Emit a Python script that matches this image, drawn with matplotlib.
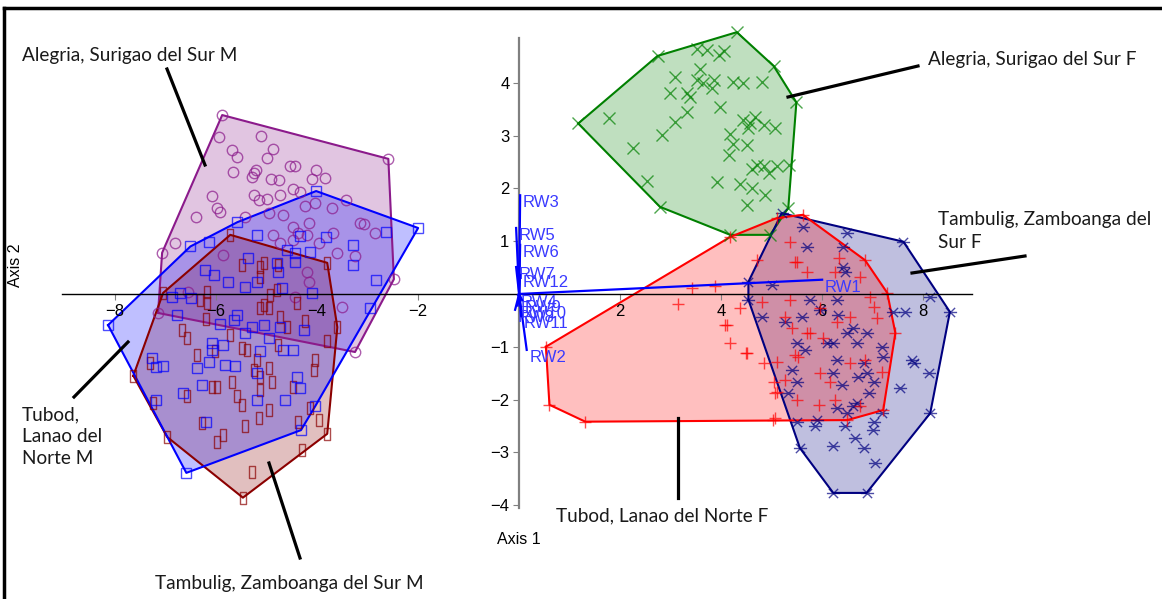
import matplotlib.pyplot as plt
from matplotlib.path import Path
from matplotlib.lines import Line2D

# ---- data ----
alegria_m_x = [-5.88, -2.59, -2.48, -3.25, -7.15, -7.07, -5.95, -5.12, -5.69, -5.59, -4.88, -5.00, -5.67, -5.26,
               -5.21, -5.29, -4.92, -4.75, -4.53, -4.44, -4.02, -3.84, -4.10, -6.09, -5.99, -5.92, -6.40, -5.26,
               -5.16, -5.00, -4.73, -4.47, -4.34, -4.24, -4.04, -3.71, -3.43, -5.43, -4.96, -4.67, -4.47, -4.37,
               -4.20, -4.17, -3.68, -3.15, -3.08, -2.85, -6.81, -5.86, -4.73, -3.61, -3.25, -4.20, -4.17, -4.87,
               -4.47, -3.96, -3.51, -4.44, -6.55]
alegria_m_y = [3.39, 2.56, 0.28, -1.10, -0.36, 0.78, 2.97, 3.00, 2.73, 2.60, 2.74, 2.57, 2.32, 2.30,
               2.35, 2.22, 2.17, 2.16, 2.42, 2.42, 2.34, 2.19, 2.17, 1.86, 1.62, 1.56, 1.46, 1.88,
               1.78, 1.80, 1.88, 1.98, 1.94, 1.67, 1.72, 1.62, 1.78, 1.46, 1.53, 1.50, 1.27, 1.15,
               1.12, 1.34, 1.15, 1.35, 1.33, 1.15, 0.96, 0.74, 0.96, 0.77, 0.71, 0.42, 0.23, 1.12,
               1.02, 0.96, -0.25, -0.05, 0.04]

tubod_m_x = [-4.02, -2.00, -4.32, -6.59, -8.14, -5.58, -5.19, -6.14, -6.51, -4.60, -4.44, -4.14, -3.82, -3.29,
             -3.28, -2.63, -2.83, -5.36, -4.80, -4.44, -6.22, -6.04, -5.76, -5.43, -5.19, -4.77, -4.70, -4.34,
             -6.71, -4.10, -7.27, -7.19, -7.05, -7.19, -6.65, -6.38, -6.28, -6.20, -6.09, -6.09, -5.86, -6.14,
             -5.82, -5.62, -5.92, -5.59, -5.43, -5.13, -5.19, -5.19, -4.96, -4.73, -4.67, -4.47, -4.40, -4.34,
             -4.64, -4.27, -4.04, -2.95, -6.78, -6.88, -6.50, -5.65, -5.29, -5.06]
tubod_m_y = [1.95, 1.25, -2.58, -3.39, -0.59, 1.36, 1.12, 0.99, 0.90, 0.83, 0.77, 0.80, 1.07, 0.93,
             0.55, 1.18, 0.27, 0.68, 0.58, 0.61, 0.45, 0.36, 0.23, 0.14, 0.23, 0.42, 0.11, 1.10,
             0.01, 0.01, -1.22, -1.38, -1.36, -2.01, -1.88, -1.41, -1.72, -2.42, -0.93, -1.06, -0.97, -1.28,
             -1.34, -1.36, -0.56, -0.40, -0.74, -1.09, -1.50, -2.01, -0.84, -0.62, -1.06, -1.06, -1.57, -1.79,
             -2.01, -0.68, -2.13, -0.27, -0.40, -0.05, -0.08, -0.49, -0.62, -0.59]

tambulig_m_x = [-5.72, -3.80, -3.60, -3.80, -5.47, -6.97, -7.64, -7.05, -6.68, -6.58, -6.38, -6.20, -6.03, -6.09,
                -5.99, -5.72, -5.69, -5.59, -5.49, -5.49, -5.39, -5.26, -5.19, -5.13, -5.13, -4.96, -4.90, -4.96,
                -5.16, -5.43, -5.86, -5.99, -6.28, -6.58, -7.31, -7.25, -5.29, -4.30, -4.37, -3.97, -4.14, -4.04,
                -4.07, -3.81, -4.47, -4.60, -4.40, -4.24, -4.77, -4.73, -6.18, -6.31, -5.13, -5.06, -4.96, -4.93,
                -5.49, -5.13, -5.05, -4.77, -5.13, -6.18, -4.80]
tambulig_m_y = [1.12, 0.59, -0.63, -2.65, -3.86, -2.71, -1.55, 0.02, -0.68, -0.84, -1.16, -0.48, -1.09, -1.76,
                -1.76, -0.78, -1.66, -1.94, -2.10, -1.03, -1.06, -1.44, -1.25, -1.57, -1.82, -1.41, -1.66, -2.20,
                -2.35, -2.51, -2.67, -2.80, -2.45, -1.94, -1.31, -2.07, -3.37, -2.95, -2.42, -2.39, -2.16, -1.25,
                -1.44, -0.90, -1.76, -0.62, -0.18, -0.52, -0.97, -0.43, -0.18, -0.11, -0.27, -0.21, -0.27, -0.02,
                0.55, 0.52, 0.58, 0.55, 0.33, 0.04, 0.08]

alegria_f_x = [4.31, 5.04, 5.49, 5.33, 4.97, 4.18, 2.79, 1.17, 2.74, 3.52, 3.72, 3.95, 4.05, 3.09,
               2.99, 3.32, 3.39, 3.58, 3.52, 3.65, 3.82, 3.85, 3.32, 3.09, 2.83, 1.77, 2.26, 3.97,
               4.24, 4.44, 4.81, 4.44, 4.57, 4.54, 4.67, 4.84, 5.07, 4.18, 4.24, 4.15, 4.51, 4.71,
               4.61, 4.84, 4.94, 5.10, 5.35, 3.91, 4.38, 4.61, 4.87, 4.51, 2.53]
alegria_f_y = [4.96, 4.32, 3.63, 1.63, 1.12, 1.12, 1.65, 3.23, 4.51, 4.65, 4.62, 4.53, 4.60, 4.12,
               3.80, 3.80, 3.74, 4.27, 4.05, 3.99, 3.90, 4.05, 3.45, 3.26, 3.01, 3.33, 2.77, 3.55,
               4.02, 3.99, 4.02, 3.30, 3.23, 3.14, 3.36, 3.20, 3.14, 3.04, 2.85, 2.63, 2.82, 2.45,
               2.36, 2.42, 2.29, 2.42, 2.45, 2.12, 2.09, 2.00, 1.87, 1.68, 2.14]

tubod_f_x = [0.53, 4.18, 5.11, 5.62, 6.85, 7.29, 7.45, 7.21, 6.50, 1.31, 0.60, 3.42, 3.88, 3.15,
             4.38, 4.08, 4.18, 4.50, 4.84, 5.10, 5.04, 5.27, 5.07, 5.07, 4.71, 5.37, 5.50, 5.70,
             4.81, 5.37, 5.70, 5.47, 5.50, 5.46, 6.33, 6.75, 6.95, 7.02, 7.08, 6.55, 6.29, 5.96,
             5.27, 5.40, 5.76, 6.02, 5.53, 5.96, 6.55, 6.85, 7.18, 6.16, 5.10, 5.93, 6.26, 6.75,
             5.03, 6.26, 4.11, 4.51]
tubod_f_y = [-1.00, 1.08, 1.44, 1.50, 0.64, 0.02, -0.74, -2.20, -2.39, -2.42, -2.10, 0.11, 0.15, -0.19,
             -0.27, -0.59, -0.92, -1.12, -1.31, -1.28, -1.66, -1.63, -1.88, -2.35, 0.64, 0.99, 0.61, 0.42,
             -0.15, -0.11, -0.74, -1.16, -2.01, 0.61, 0.68, 0.33, -0.05, -0.24, -0.46, -0.43, -0.53, -0.27,
             -0.43, -0.65, -0.74, -0.84, -1.19, -1.50, -1.31, -1.25, -1.47, -1.66, -1.85, -2.10, -2.01, -2.13,
             -2.39, 0.42, -0.59, -1.12]

tambulig_f_x = [5.20, 7.61, 8.53, 8.14, 6.88, 6.22, 5.56, 4.54, 4.54, 5.00, 5.63, 6.49, 5.70, 6.42,
                6.42, 6.46, 5.76, 6.29, 5.96, 5.60, 6.32, 4.81, 5.27, 7.41, 7.64, 8.14, 6.49, 6.62,
                6.88, 6.22, 6.09, 5.50, 5.66, 6.69, 7.18, 6.82, 6.72, 6.88, 7.21, 7.78, 7.81, 8.11,
                7.54, 7.02, 6.92, 6.39, 6.22, 6.29, 5.50, 5.40, 5.33, 6.29, 6.49, 6.62, 6.69, 7.18,
                7.02, 5.86, 5.50, 6.46, 6.65, 6.22, 6.82, 7.01, 7.05, 5.90]
tambulig_f_y = [1.53, 0.99, -0.34, -2.26, -3.77, -3.77, -2.92, -0.11, 0.23, 0.17, 1.27, 1.16, 0.89, 0.89,
                0.52, 0.42, -0.11, -0.11, -0.30, -0.43, -0.40, -0.43, -0.53, -0.34, -0.34, -0.05, -0.74, -0.65,
                -0.74, -0.93, -0.93, -0.93, -1.06, -0.93, -1.00, -1.31, -1.57, -1.50, -1.19, -1.25, -1.31, -1.50,
                -1.79, -1.66, -1.88, -1.72, -1.50, -1.25, -1.66, -1.44, -1.88, -2.17, -2.26, -2.13, -2.07, -2.26,
                -2.42, -2.51, -2.42, -2.51, -2.73, -2.89, -2.92, -2.58, -3.21, -2.39]

# biplot vectors
rw_names = ['RW1', 'RW2', 'RW3', 'RW4', 'RW5', 'RW6', 'RW7', 'RW8', 'RW9', 'RW10', 'RW11', 'RW12']
rw_x = [6.00, 0.15, 0.02, -0.02, -0.06, 0.02, -0.06, -0.08, 0.06, -0.03, 0.04, 0.02]
rw_y = [0.27, -1.06, 1.87, -0.02, 1.25, 0.93, 0.51, -0.30, -0.12, -0.22, -0.42, 0.36]

x_ticks = [-8, -6, -4, -2, 2, 4, 6, 8]
y_ticks = [-4, -3, -2, -1, 1, 2, 3, 4]


def convex_hull(xs, ys):
    pts = sorted(set(zip(xs, ys)))
    def cross(o, a, b):
        return (a[0]-o[0])*(b[1]-o[1]) - (a[1]-o[1])*(b[0]-o[0])
    lower = []
    for p in pts:
        while len(lower) >= 2 and cross(lower[-2], lower[-1], p) <= 0:
            lower.pop()
        lower.append(p)
    upper = []
    for p in reversed(pts):
        while len(upper) >= 2 and cross(upper[-2], upper[-1], p) <= 0:
            upper.pop()
        upper.append(p)
    h = lower[:-1] + upper[:-1]
    return h + [h[0]]


rect_marker = Path([(-0.25, -0.5), (0.25, -0.5), (0.25, 0.5), (-0.25, 0.5), (-0.25, -0.5)],
                   [Path.MOVETO, Path.LINETO, Path.LINETO, Path.LINETO, Path.CLOSEPOLY])
ast_marker = Path([(-1, 0), (1, 0), (-0.7, -0.7), (0.7, 0.7), (-0.7, 0.7), (0.7, -0.7)],
                  [Path.MOVETO, Path.LINETO, Path.MOVETO, Path.LINETO, Path.MOVETO, Path.LINETO])

groups = [
    (alegria_f_x, alegria_f_y, '#008000', 'x', 8),
    (alegria_m_x, alegria_m_y, '#8b1a8b', 'o', 7.5),
    (tambulig_f_x, tambulig_f_y, '#000080', ast_marker, 9.5),
    (tambulig_m_x, tambulig_m_y, '#8b0000', rect_marker, 8.5),
    (tubod_f_x, tubod_f_y, '#ff0000', '+', 8.5),
    (tubod_m_x, tubod_m_y, '#0000ff', 's', 7.5),
]

fig = plt.figure(figsize=(11.62, 5.99), dpi=100)
ax = fig.add_axes([0, 0, 1, 1])
ax.set_xlim(-10.28, 12.73)
ax.set_ylim(-5.78, 5.57)
ax.patch.set_visible(False)

for xs, ys, col, mk, ms in groups:
    h = convex_hull(xs, ys)
    hx = [p[0] for p in h]
    hy = [p[1] for p in h]
    ax.fill(hx, hy, color=col, alpha=0.25, lw=0, zorder=1)
    ax.plot(hx, hy, color=col, lw=1.5, zorder=1.5)
    ax.plot(xs, ys, ls='none', marker=mk, ms=ms, mfc='none', mec=col, mew=1.0, alpha=0.7, zorder=2)

for name, vx, vy in zip(rw_names, rw_x, rw_y):
    ax.plot([0, vx], [0, vy], color='#0000ff', lw=1.6, zorder=3)
    ax.text(vx + 0.05, vy, name, color='#3a3aff', fontsize=12, family='Liberation Sans',
            ha='left', va='top', zorder=3)

for s in ['top', 'right']:
    ax.spines[s].set_visible(False)
ax.spines['left'].set_position(('data', 0))
ax.spines['bottom'].set_position(('data', 0))
ax.spines['left'].set_bounds(-4.05, 4.85)
ax.spines['bottom'].set_bounds(-9.05, 8.97)
ax.spines['left'].set_color('#808080')
ax.spines['left'].set_linewidth(1.6)
ax.spines['bottom'].set_color('black')
ax.spines['bottom'].set_linewidth(1.0)
ax.set_xticks(x_ticks)
ax.set_yticks(y_ticks)
ax.tick_params(direction='out', length=4, color='#808080', labelsize=12, pad=3)
for lab in ax.get_xticklabels() + ax.get_yticklabels():
    lab.set_family('Liberation Sans')

W, H = 1162, 599
def fp(x, y):
    return x / W, 1 - y / H

lab_font = dict(family=['Lato', 'DejaVu Sans'], fontsize=13.7, color='#1a1a1a', ha='left', va='center')
fig.text(*fp(22, 56), 'Alegria, Surigao del Sur M', **lab_font)
fig.text(*fp(928, 60), 'Alegria, Surigao del Sur F', **lab_font)
fig.text(*fp(938, 231), 'Tambulig, Zamboanga del\nSur F', linespacing=1.45, **lab_font)
fig.text(*fp(22, 437), 'Tubod,\nLanao del\nNorte M', linespacing=1.35, **lab_font)
fig.text(*fp(155, 583), 'Tambulig, Zamboanga del Sur M', **lab_font)
fig.text(*fp(556, 516), 'Tubod, Lanao del Norte F', **lab_font)

fig.text(*fp(497, 539), 'Axis 1', family='Liberation Sans', fontsize=11.5, ha='left', va='center')
fig.text(*fp(16, 265), 'Axis 2', family='Liberation Sans', fontsize=11.5, ha='center', va='center',
         rotation=90)

pointers = [((167, 69), (205, 165)), ((788, 97), (918, 66)), ((912, 273), (1025, 256)),
            ((74, 397), (128, 342)), ((269, 463), (300, 558)), ((678, 418), (678, 498))]
for a, b in pointers:
    (x0, y0), (x1, y1) = fp(*a), fp(*b)
    fig.add_artist(Line2D([x0, x1], [y0, y1], color='black', lw=2.3))

# frame around the picture (top and left edges)
fig.add_artist(Line2D([fp(4, 8)[0], 1], [fp(4, 8)[1]] * 2, color='black', lw=2.5))
fig.add_artist(Line2D([fp(4, 8)[0]] * 2, [fp(4, 8)[1], 0], color='black', lw=2.5))

fig.savefig('out.png', dpi=100)
